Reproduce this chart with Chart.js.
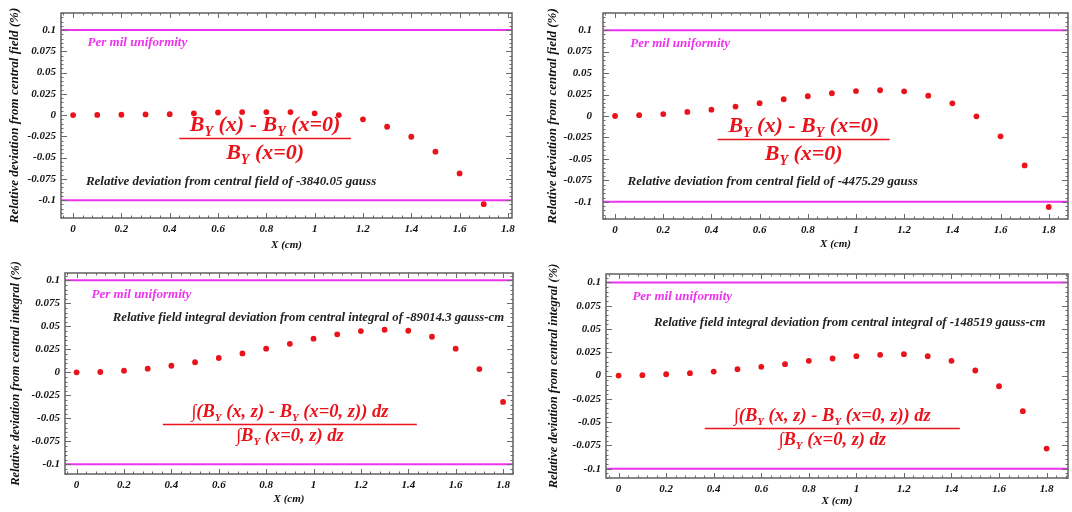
<!DOCTYPE html>
<html>
<head>
<meta charset="utf-8">
<script src="https://cdn.jsdelivr.net/npm/chart.js@4.4.1/dist/chart.umd.min.js"></script>
<style>
  html, body { margin: 0; padding: 0; background: #fff; }
  #page { position: relative; width: 1072px; height: 512px; overflow: hidden; }
  .panel { position: absolute; width: 536px; height: 256px; }
</style>
</head>
<body>
<div id="page">
  <div class="panel" style="left:0;top:0"><canvas id="fieldA" width="536" height="256"></canvas></div>
  <div class="panel" style="left:536px;top:0"><canvas id="fieldB" width="536" height="256"></canvas></div>
  <div class="panel" style="left:0;top:256px"><canvas id="integralA" width="536" height="256"></canvas></div>
  <div class="panel" style="left:536px;top:256px"><canvas id="integralB" width="536" height="256"></canvas></div>
</div>
<script>
// x positions (cm)
const xPositions = [0, 0.1, 0.2, 0.3, 0.4, 0.5, 0.6, 0.7, 0.8, 0.9, 1.0, 1.1, 1.2, 1.3, 1.4, 1.5, 1.6, 1.7, 1.8];

// relative deviations (%)
const fieldDevA = [0, 0.0002, 0.0004, 0.0008, 0.001, 0.002, 0.003, 0.0035, 0.0035, 0.0035, 0.002, 0, -0.005, -0.0137, -0.0255, -0.043, -0.0686, -0.1047, null];
const fieldDevB = [0, 0.001, 0.0023, 0.0047, 0.0074, 0.011, 0.015, 0.0195, 0.023, 0.0265, 0.029, 0.030, 0.0288, 0.0237, 0.0148, -0.0004, -0.0237, -0.0576, -0.106];
const integralDevA = [0, 0.0004, 0.0018, 0.004, 0.0072, 0.011, 0.0156, 0.0206, 0.0257, 0.031, 0.0366, 0.0413, 0.0449, 0.0463, 0.0452, 0.0387, 0.0257, 0.0036, -0.0322];
const integralDevB = [0, 0.0004, 0.0014, 0.0025, 0.0043, 0.0068, 0.0093, 0.0122, 0.0158, 0.0183, 0.0208, 0.0222, 0.0229, 0.0208, 0.0158, 0.0054, -0.0115, -0.0383, -0.0784];

const uniformityLimits = [0.1, -0.1];

const xTickValues = [0, 0.2, 0.4, 0.6, 0.8, 1.0, 1.2, 1.4, 1.6, 1.8];
const xTickLabels = ["0", "0.2", "0.4", "0.6", "0.8", "1", "1.2", "1.4", "1.6", "1.8"];
const yTickValues = [-0.1, -0.075, -0.05, -0.025, 0, 0.025, 0.05, 0.075, 0.1];
const yTickLabels = ["-0.1", "-0.075", "-0.05", "-0.025", "0", "0.025", "0.05", "0.075", "0.1"];

const SERIF = '"Liberation Serif", "DejaVu Serif", serif';
const RED = "#e8131b";
const MAGENTA = "#ee33ee";
const INK = "#111";
const FRAME = "#6a6a6a";

const FIELD_TOP = [["B", 0], ["Y", 1], [" (x) - ", 0], ["B", 0], ["Y", 1], [" (x=0)", 0]];
const FIELD_BOTTOM = [["B", 0], ["Y", 1], [" (x=0)", 0]];
const INTEGRAL_TOP = [["\u222B(", 0], ["B", 0], ["Y", 1], [" (x, z) - ", 0], ["B", 0], ["Y", 1], [" (x=0, z)) dz", 0]];
const INTEGRAL_BOTTOM = [["\u222B", 0], ["B", 0], ["Y", 1], [" (x=0, z) dz", 0]];

function drawParts(ctx, parts, cx, baseline, size) {
    const big = `italic bold ${size}px ${SERIF}`;
    const small = `italic bold ${Math.round(size * 0.62)}px ${SERIF}`;
    let width = 0;
    parts.forEach(([t, sub]) => {
        ctx.font = sub ? small : big;
        width += ctx.measureText(t).width;
    });
    let px = cx - width / 2;
    parts.forEach(([t, sub]) => {
        ctx.font = sub ? small : big;
        ctx.fillText(t, px, baseline + (sub ? size * 0.24 : 0));
        px += ctx.measureText(t).width;
    });
}

function makeDecor(cfg) {
    return {
        id: "decor-" + cfg.id,
        afterDatasetsDraw(chart) {
            const { ctx, chartArea: a, scales: { x, y } } = chart;
            ctx.save();
            ctx.strokeStyle = FRAME;
            ctx.lineWidth = 1;
            const seg = (x0, y0, x1, y1) => {
                ctx.beginPath();
                ctx.moveTo(x0, y0);
                ctx.lineTo(x1, y1);
                ctx.stroke();
            };
            const xTick = (v, len) => {
                const px = Math.round(x.getPixelForValue(v)) + 0.5;
                seg(px, a.bottom, px, a.bottom - len);
                seg(px, a.top, px, a.top + len);
            };
            const yTick = (v, len) => {
                const py = Math.round(y.getPixelForValue(v)) + 0.5;
                seg(a.left, py, a.left + len, py);
                seg(a.right, py, a.right - len, py);
            };
            for (let k = Math.ceil(x.min / 0.04); k * 0.04 <= x.max; k++) xTick(k * 0.04, 2.5);
            xTickValues.forEach((v) => xTick(v, 5));
            for (let k = Math.ceil(y.min / 0.005); k * 0.005 <= y.max; k++) yTick(k * 0.005, 2.5);
            yTickValues.forEach((v) => yTick(v, 6));
            ctx.lineWidth = 1.6;
            ctx.strokeRect(a.left, a.top, a.right - a.left, a.bottom - a.top);

            // labels inside the frame
            ctx.textAlign = "left";
            ctx.textBaseline = "middle";
            ctx.font = `italic bold 13px ${SERIF}`;
            ctx.fillStyle = MAGENTA;
            ctx.fillText("Per mil uniformity", x.getPixelForValue(cfg.perMil[0]), y.getPixelForValue(cfg.perMil[1]));
            ctx.font = `italic bold ${cfg.noteSize}px ${SERIF}`;
            ctx.fillStyle = "#222";
            ctx.fillText(cfg.note, x.getPixelForValue(cfg.notePos[0]), y.getPixelForValue(cfg.notePos[1]));

            // formula
            const lx0 = x.getPixelForValue(cfg.fracX[0]);
            const lx1 = x.getPixelForValue(cfg.fracX[1]);
            const ly = Math.round(y.getPixelForValue(cfg.fracY)) + 0.5;
            ctx.strokeStyle = RED;
            ctx.lineWidth = 1.5;
            seg(lx0, ly, lx1, ly);
            ctx.fillStyle = RED;
            ctx.textBaseline = "alphabetic";
            const cx = (lx0 + lx1) / 2;
            drawParts(ctx, cfg.top, cx, ly - 8, cfg.size);
            drawParts(ctx, cfg.bottom, cx, ly + cfg.size - 2, cfg.size);
            ctx.restore();
        },
    };
}

function makePanel(cfg, values) {
    const tickFont = { family: SERIF, size: 11, style: "italic", weight: "bold" };
    const yTitleFont = { family: SERIF, size: cfg.yTitleSize, style: "italic", weight: "bold" };
    return new Chart(document.getElementById(cfg.id), {
        type: "scatter",
        data: {
            datasets: [
                {
                    data: xPositions.map((x, i) => ({ x, y: values[i] })),
                    backgroundColor: RED,
                    borderColor: RED,
                    pointRadius: 2.9,
                    borderWidth: 0,
                },
                ...uniformityLimits.map((lim) => ({
                    data: [{ x: cfg.xMin, y: lim }, { x: cfg.xMax, y: lim }],
                    showLine: true,
                    borderColor: MAGENTA,
                    borderWidth: 2,
                    pointRadius: 0,
                })),
            ],
        },
        options: {
            responsive: false,
            animation: false,
            devicePixelRatio: 1,
            layout: { padding: { left: 0, top: cfg.pad[0], right: cfg.pad[1], bottom: 0 } },
            plugins: { legend: { display: false }, tooltip: { enabled: false } },
            scales: {
                x: {
                    type: "linear",
                    min: cfg.xMin,
                    max: cfg.xMax,
                    afterBuildTicks: (s) => { s.ticks = xTickValues.map((v) => ({ value: v })); },
                    afterFit: (s) => {
                        s.height = cfg.axisBox[1];
                        s.paddingLeft = 0;
                        s.paddingRight = 0;
                    },
                    grid: { display: false, drawTicks: false },
                    border: { display: false },
                    ticks: {
                        callback: (v, i) => xTickLabels[i],
                        color: INK, font: tickFont, padding: 5, maxRotation: 0, autoSkip: false,
                    },
                    title: {
                        display: true, text: "X (cm)", color: INK, font: tickFont,
                        padding: { top: 0, bottom: cfg.titlePad[1] },
                    },
                },
                y: {
                    type: "linear",
                    min: cfg.yMin,
                    max: cfg.yMax,
                    afterBuildTicks: (s) => { s.ticks = yTickValues.map((v) => ({ value: v })); },
                    afterFit: (s) => {
                        s.width = cfg.axisBox[0];
                        s.paddingTop = 0;
                        s.paddingBottom = 0;
                    },
                    grid: { display: false, drawTicks: false },
                    border: { display: false },
                    ticks: {
                        callback: (v, i) => yTickLabels[i],
                        color: INK, font: tickFont, padding: cfg.yTickPad, autoSkip: false,
                    },
                    title: {
                        display: true, text: cfg.yTitle, color: INK, font: yTitleFont,
                        padding: { top: cfg.titlePad[0], bottom: 0 },
                    },
                },
            },
        },
        plugins: [makeDecor(cfg)],
    });
}

makePanel({
    id: "fieldA", xMin: -0.05, xMax: 1.817, yMin: -0.121, yMax: 0.12,
    axisBox: [61, 38], pad: [13, 24], titlePad: [7, 4], yTickPad: 5, yTitleSize: 13,
    yTitle: "Relative deviation from central field (%)",
    perMil: [0.06, 0.085], noteSize: 13,
    note: "Relative deviation from central field of -3840.05 gauss", notePos: [0.053, -0.078],
    fracX: [0.44, 1.15], fracY: -0.027, size: 22, top: FIELD_TOP, bottom: FIELD_BOTTOM,
}, fieldDevA);

makePanel({
    id: "fieldB", xMin: -0.05, xMax: 1.88, yMin: -0.12, yMax: 0.12,
    axisBox: [67, 37], pad: [13, 2], titlePad: [9, 5], yTickPad: 11, yTitleSize: 13,
    yTitle: "Relative deviation from central field (%)",
    perMil: [0.063, 0.0845], noteSize: 13,
    note: "Relative deviation from central field of -4475.29 gauss", notePos: [0.052, -0.0767],
    fracX: [0.426, 1.14], fracY: -0.027, size: 22, top: FIELD_TOP, bottom: FIELD_BOTTOM,
}, fieldDevB);

makePanel({
    id: "integralA", xMin: -0.049, xMax: 1.842, yMin: -0.1105, yMax: 0.108,
    axisBox: [65, 38], pad: [17, 23], titlePad: [8, 6], yTickPad: 5, yTitleSize: 12.5,
    yTitle: "Relative deviation from central integral (%)",
    perMil: [0.063, 0.085], noteSize: 12.7,
    note: "Relative field integral deviation from central integral of -89014.3 gauss-cm", notePos: [0.153, 0.0597],
    fracX: [0.364, 1.436], fracY: -0.0557, size: 18.5, top: INTEGRAL_TOP, bottom: INTEGRAL_BOTTOM,
}, integralDevA);

makePanel({
    id: "integralB", xMin: -0.053, xMax: 1.89, yMin: -0.11, yMax: 0.109,
    axisBox: [70, 34], pad: [18, 1], titlePad: [10, 4], yTickPad: 5, yTitleSize: 12.5,
    yTitle: "Relative deviation from central integral (%)",
    perMil: [0.058, 0.0845], noteSize: 12.8,
    note: "Relative field integral deviation from central integral of -148519 gauss-cm", notePos: [0.149, 0.0572],
    fracX: [0.362, 1.435], fracY: -0.056, size: 18.5, top: INTEGRAL_TOP, bottom: INTEGRAL_BOTTOM,
}, integralDevB);
</script>
</body>
</html>
